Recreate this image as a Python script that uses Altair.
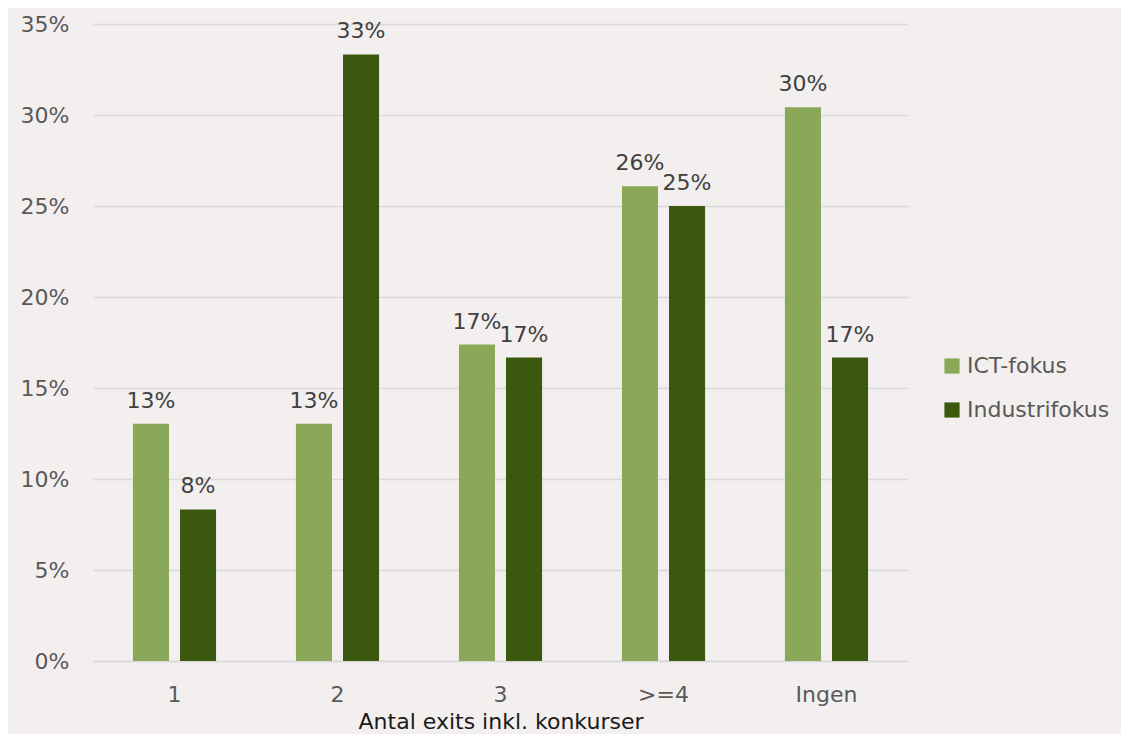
import altair as alt
import pandas as pd

categories = ["1", "2", "3", ">=4", "Ingen"]
series_names = ["ICT-fokus", "Industrifokus"]
ict_values = [0.1304, 0.1304, 0.1739, 0.2609, 0.3043]
industri_values = [0.0833, 0.3333, 0.1667, 0.25, 0.1667]

rows = []
for c, v in zip(categories, ict_values):
    rows.append({"kategori": c, "serie": series_names[0], "andel": v})
for c, v in zip(categories, industri_values):
    rows.append({"kategori": c, "serie": series_names[1], "andel": v})
df = pd.DataFrame(rows)

FONT = "DejaVu Sans"

x = alt.X("kategori:N", sort=categories, title="Antal exits inkl. konkurser",
          scale=alt.Scale(paddingInner=0.49, paddingOuter=0.245),
          axis=alt.Axis(labelAngle=0, labelFontSize=22, labelColor="#595959",
                        labelFont=FONT, tickSize=0, labelPadding=23,
                        domainColor="#D9D9D9", domainWidth=1.5,
                        titleFontSize=22, titleFont=FONT, titleColor="#1a1a1a",
                        titleFontWeight="normal", titlePadding=6))
xo = alt.XOffset("serie:N", sort=series_names,
                 scale=alt.Scale(paddingInner=0.234, paddingOuter=0))
y = alt.Y("andel:Q", scale=alt.Scale(domain=[0, 0.35], nice=False),
          axis=alt.Axis(format=".0%", values=[0, 0.05, 0.1, 0.15, 0.2, 0.25, 0.3, 0.35],
                        title=None, labelFontSize=22, labelColor="#595959",
                        labelFont=FONT, tickSize=0, labelPadding=24, domain=False,
                        gridColor="#D9D9D9", gridWidth=1.5))
color = alt.Color("serie:N", sort=series_names,
                  scale=alt.Scale(domain=series_names, range=["#8BA858", "#3A580E"]),
                  legend=alt.Legend(title=None, orient="none", legendX=848, legendY=331,
                                    symbolType="square", symbolSize=230, symbolStrokeWidth=0,
                                    labelFontSize=22, labelFont=FONT, labelColor="#595959",
                                    rowPadding=22, labelOffset=4))

bars = alt.Chart(df).mark_bar().encode(x=x, xOffset=xo, y=y, color=color)
labels = alt.Chart(df).mark_text(baseline="bottom", dy=-11, fontSize=22, font=FONT,
                                 color="#404040").encode(
    x=alt.X("kategori:N", sort=categories), xOffset=alt.XOffset("serie:N", sort=series_names),
    y="andel:Q", text=alt.Text("andel:Q", format=".0%"))

chart = (bars + labels).properties(
    width=815, height=637, background="#F2EFEE",
    autosize=alt.AutoSizeParams(type="none"),
    padding={"left": 85, "top": 16, "right": 213, "bottom": 73},
).configure_view(strokeWidth=0)

chart.save("out.html", embed_options={"renderer": "svg", "actions": False})
